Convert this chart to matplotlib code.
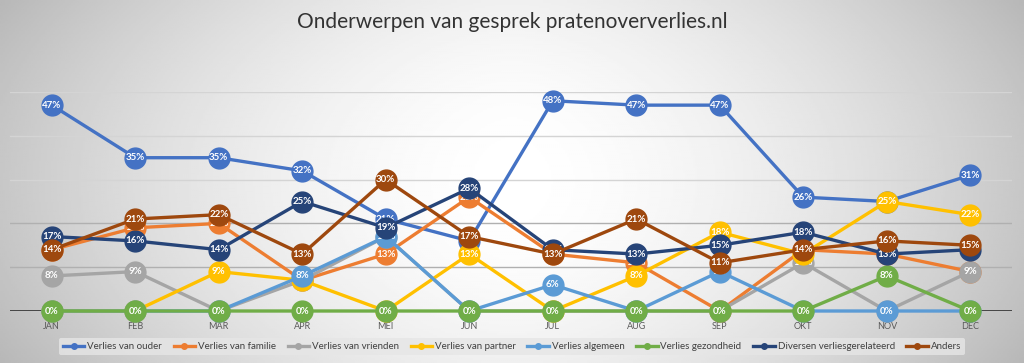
import numpy as np
import matplotlib
matplotlib.use("Agg")
import matplotlib.pyplot as plt
from matplotlib.lines import Line2D

months = ["JAN", "FEB", "MAR", "APR", "MEI", "JUN", "JUL", "AUG", "SEP", "OKT", "NOV", "DEC"]

ouder      = [47, 35, 35, 32, 21, 16, 48, 47, 47, 26, 25, 31]
familie    = [14, 19, 20, 7, 13, 26, 13, 11, 0, 14, 13, 9]
vrienden   = [8, 9, 0, 7, 17, 0, 0, 0, 0, 11, 0, 9]
partner    = [0, 0, 9, 7, 0, 13, 0, 8, 18, 13, 25, 22]
algemeen   = [0, 0, 0, 8, 17, 0, 6, 0, 9, 0, 0, 0]
gezondheid = [0, 0, 0, 0, 0, 0, 0, 0, 0, 0, 8, 0]
diversen   = [17, 16, 14, 25, 19, 28, 14, 13, 15, 18, 13, 14]
anders     = [14, 21, 22, 13, 30, 17, 13, 21, 11, 14, 16, 15]

series_names = ["Verlies van ouder", "Verlies van familie", "Verlies van vrienden",
                "Verlies van partner", "Verlies algemeen", "Verlies gezondheid",
                "Diversen verliesgerelateerd", "Anders"]
series_vals = [ouder, familie, vrienden, partner, algemeen, gezondheid, diversen, anders]
colors = ["#4472C4", "#ED7D31", "#A5A5A5", "#FFC000", "#5B9BD5", "#70AD47", "#264478", "#9E480E"]

plt.rcParams['font.family'] = ['Lato', 'DejaVu Sans']

fig = plt.figure(figsize=(10.24, 3.63), dpi=100)

# background gradient
bg = fig.add_axes([0, 0, 1, 1], zorder=-10)
xx, yy = np.meshgrid(np.linspace(-1, 1, 512), np.linspace(-1, 1, 200))
v = 1.0 - 0.22 * np.abs(xx) ** 1.6 - 0.06 * np.abs(yy) ** 2
bg.imshow(v, cmap="gray", vmin=0, vmax=1, aspect="auto", extent=[0, 1, 0, 1])
bg.axis("off")

ax = fig.add_axes([10 / 1024, 52 / 363, 1002 / 1024, 219 / 363])
ax.patch.set_alpha(0)
x = np.arange(len(months))
ax.set_xlim(-0.5, 11.5)
ax.set_ylim(0, 50)

for gy in [10, 20, 30, 40, 50]:
    ax.axhline(gy, color="#b0b0b0" if gy <= 20 else "#d4d4d4", lw=1.0, zorder=0)
ax.axhline(0, color="#303030", lw=1.2, zorder=1)

for i, (name, vals, c) in enumerate(zip(series_names, series_vals, colors)):
    ax.plot(x, vals, color=c, lw=2.4, marker="o", markersize=15, label=name,
            zorder=2 + i, clip_on=False)
    for xi, yi in zip(x, vals):
        ax.text(xi, yi, f"{yi}%", color="white", fontsize=7, fontweight="bold",
                ha="center", va="center", zorder=2 + i + 0.5)

for s in ax.spines.values():
    s.set_visible(False)
ax.set_yticks([])
ax.set_xticks(x)
ax.set_xticklabels(months, fontsize=6.5, color="#595959")
ax.tick_params(axis="x", length=0, pad=8)

fig.text(0.5, 0.94, "Onderwerpen van gesprek pratenoververlies.nl", ha="center", va="center",
         fontsize=15, color="#333333")

hs = [Line2D([0], [0], color=c, lw=2.4, marker="o", markersize=4) for c in colors]
leg = fig.legend(hs, series_names, loc="center", bbox_to_anchor=(0.5, 0.045), ncol=8,
                 frameon=True, fontsize=7, handlelength=2.2, columnspacing=1.2,
                 handletextpad=0.3, borderpad=0.4)
leg.get_frame().set_facecolor("#e6e6e6")
leg.get_frame().set_edgecolor("none")
leg.get_frame().set_alpha(0.8)
for t in leg.get_texts():
    t.set_color("#404040")

fig.savefig("out.png", dpi=100)
